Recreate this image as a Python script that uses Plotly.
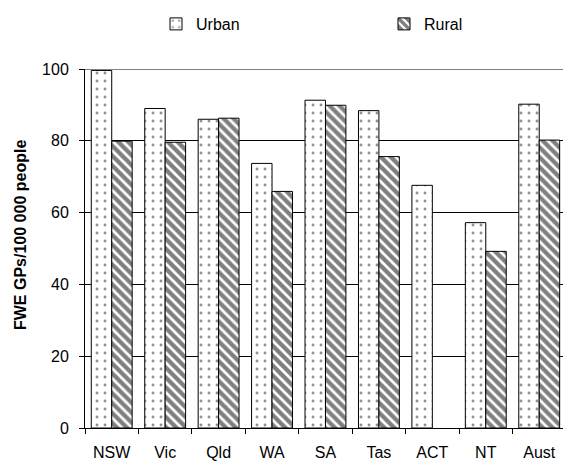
import plotly.graph_objects as go

categories = ["NSW", "Vic", "Qld", "WA", "SA", "Tas", "ACT", "NT", "Aust"]
urban = [99.6, 89.0, 86.0, 73.7, 91.3, 88.4, 67.6, 57.2, 90.2]
rural = [79.9, 79.6, 86.3, 65.9, 89.9, 75.6, None, 49.2, 80.2]
y_ticks = [0, 20, 40, 60, 80, 100]

W, H = 563, 461
L, R, T, B = 85, 0, 69, 33
FONT = "Arial, Liberation Sans, sans-serif"

fig = go.Figure()
fig.add_trace(go.Bar(
    name="Urban", x=categories, y=urban,
    marker=dict(color="white", line=dict(color="black", width=1),
                pattern=dict(shape=".", fgcolor="#222222", bgcolor="white",
                             size=8, solidity=0.1)),
))
fig.add_trace(go.Bar(
    name="Rural", x=categories, y=rural,
    marker=dict(color="white", line=dict(color="black", width=1),
                pattern=dict(shape="\\", fgcolor="black", bgcolor="white",
                             size=7, solidity=0.62)),
))

plot_w = W - L - R
plot_h = H - T - B
fig.update_layout(
    width=W, height=H,
    margin=dict(l=L, r=R, t=T, b=B, pad=0, autoexpand=False),
    paper_bgcolor="white", plot_bgcolor="white",
    barmode="group", bargap=0.235, bargroupgap=0,
    font=dict(family=FONT, size=16, color="black"),
    showlegend=True,
    legend=dict(orientation="h", xref="container", yref="container",
                x=156 / W, xanchor="left", y=1 - 24 / H, yanchor="middle",
                font=dict(size=16), entrywidth=183, entrywidthmode="pixels",
                bgcolor="rgba(0,0,0,0)", itemclick=False),
    xaxis=dict(range=[-0.5, 8.445], showline=True, linecolor="black", linewidth=1,
               ticks="outside", tickson="boundaries", ticklen=5, tickcolor="black",
               showgrid=False, tickfont=dict(size=16), ticklabelstandoff=10,
               fixedrange=True),
    yaxis=dict(range=[0, 100], tickvals=y_ticks, showline=True, linecolor="black",
               linewidth=1, ticks="outside", ticklen=5, tickcolor="black",
               showgrid=True, gridcolor="black", gridwidth=1, zeroline=False,
               tickfont=dict(size=16), ticklabelstandoff=7, fixedrange=True),
    shapes=[dict(type="line", xref="paper", x0=0, x1=1, yref="y", y0=100, y1=100,
                 line=dict(color="#808080", width=2), layer="above")],
    annotations=[dict(text="<b>FWE GPs/100 000 people</b>", textangle=-90,
                      xref="paper", x=(20 - L) / plot_w, xanchor="center",
                      yref="paper", y=(H - B - 235) / plot_h, yanchor="middle",
                      showarrow=False, font=dict(size=16, family=FONT))],
)

fig.write_html(
    "out.html",
    config={"displayModeBar": False, "staticPlot": True},
    post_script="document.body.style.margin='0';document.body.style.overflow='hidden';",
)
